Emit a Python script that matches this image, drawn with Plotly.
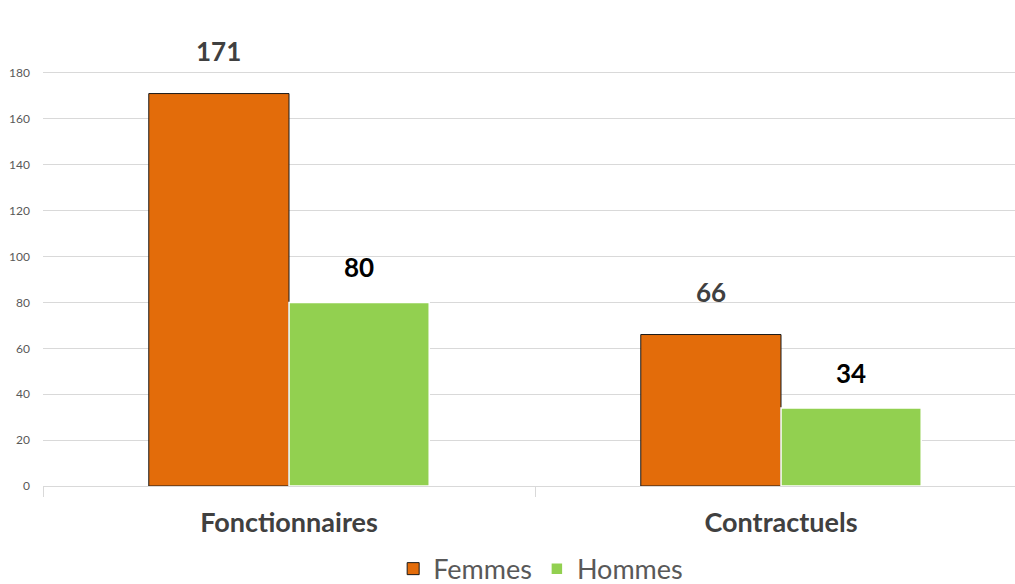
import plotly.graph_objects as go

categories = ["Fonctionnaires", "Contractuels"]
femmes = [171, 66]
hommes = [80, 34]
series_names = ["Femmes", "Hommes"]
y_ticks = [0, 20, 40, 60, 80, 100, 120, 140, 160, 180]

ORANGE = "#E36C0A"
GREEN = "#92D050"
FONT = "Lato, 'Open Sans', sans-serif"

fig = go.Figure()
fig.add_trace(go.Bar(x=categories, y=femmes, name=series_names[0],
                     marker=dict(color=ORANGE, line=dict(color="#1a1a1a", width=1))))
fig.add_trace(go.Bar(x=categories, y=hommes, name=series_names[1],
                     marker=dict(color=GREEN, line=dict(color="white", width=1.5))))

offset = 0.143
for i, v in enumerate(femmes):
    fig.add_annotation(x=i - offset, y=v, xref="x", yref="y", text=f"<b>{v}</b>",
                       showarrow=False, yshift=43, font=dict(size=26, color="#404040", family=FONT))
for i, v in enumerate(hommes):
    fig.add_annotation(x=i + offset, y=v, xref="x", yref="y", text=f"<b>{v}</b>",
                       showarrow=False, yshift=35, font=dict(size=26, color="#000000", family=FONT))

fig.update_layout(
    width=1015, height=584,
    margin=dict(l=43, r=0, t=27, b=98, autoexpand=False),
    plot_bgcolor="white", paper_bgcolor="white",
    barmode="group", bargap=0.43, bargroupgap=0,
    font=dict(family=FONT, color="#595959"),
    showlegend=True,
    legend=dict(orientation="h", x=0.512, xanchor="center", y=-0.181, yanchor="middle",
                font=dict(size=27, color="#595959"), itemwidth=30, traceorder="normal"),
    xaxis=dict(range=[-0.5, 1.4756], tickson="boundaries", ticks="outside", ticklen=10,
               tickcolor="#d9d9d9", showline=True, linecolor="#d9d9d9", linewidth=1,
               tickfont=dict(size=27, color="#404040", family=FONT), showgrid=False,
               automargin=False, ticklabelstandoff=13),
    yaxis=dict(range=[0, 200], tickvals=y_ticks, showgrid=True, gridcolor="#d9d9d9",
               tickfont=dict(size=12, color="#595959"), zeroline=False, ticklen=0,
               ticks="", ticklabelstandoff=12, automargin=False),
)
fig.update_xaxes(tickprefix="<b>", ticksuffix="</b>")

fig.write_html("out.html", config={"displayModeBar": False},
               post_script="document.body.style.margin='0';document.body.style.overflow='hidden';")
